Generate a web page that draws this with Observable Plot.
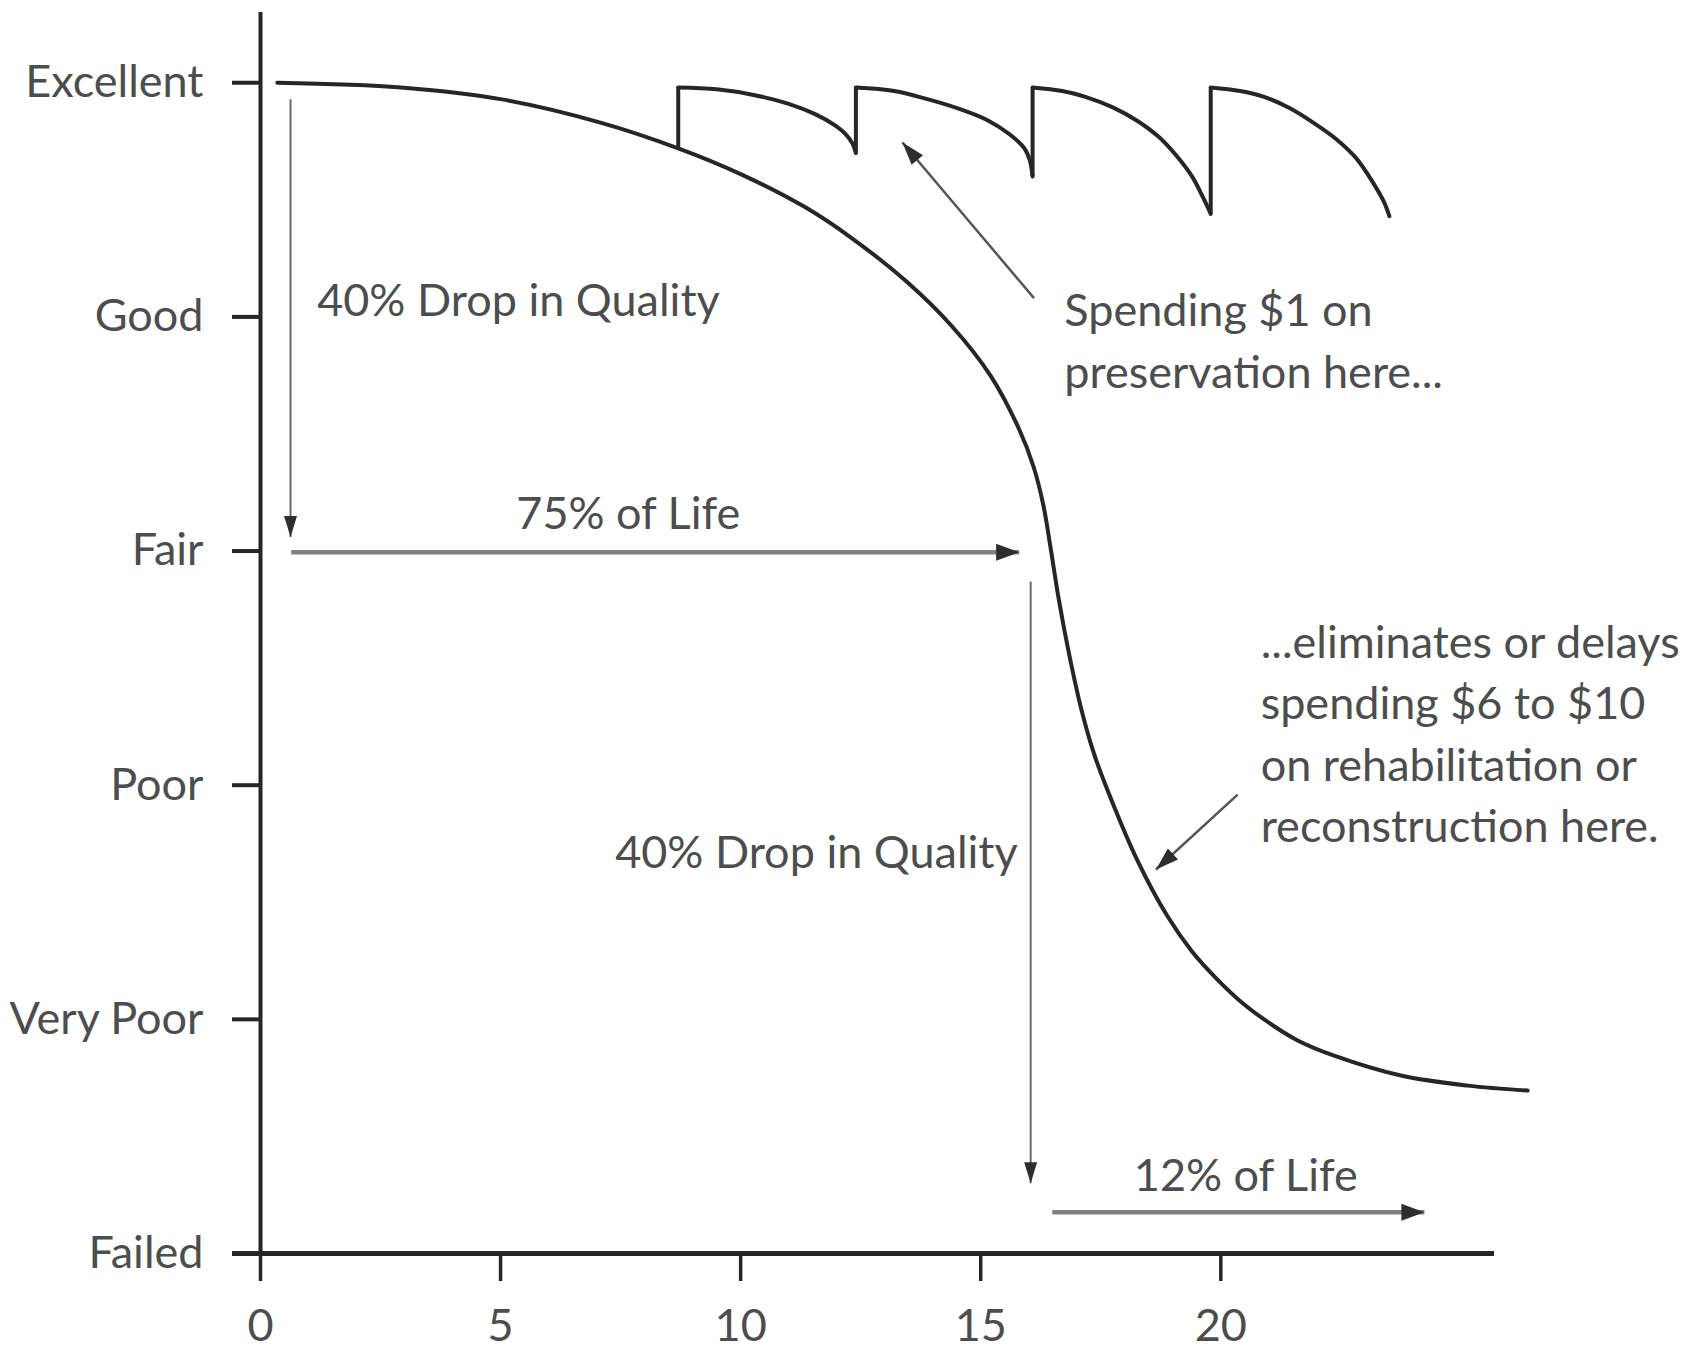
<!DOCTYPE html>
<html>
<head>
<meta charset="utf-8">
<script src="https://cdn.jsdelivr.net/npm/d3@7"></script>
<script src="https://cdn.jsdelivr.net/npm/@observablehq/plot@0.6"></script>
<style>
  html, body { margin: 0; padding: 0; background: #fff; }
  #chart svg { display: block; }
</style>
</head>
<body>
<div id="chart"></div>
<script>
// ---------- data ----------
const levelNames = ["Failed", "Very Poor", "Poor", "Fair", "Good", "Excellent"];
const levelValues = [0, 1, 2, 3, 4, 5];
const xTickValues = [0, 5, 10, 15, 20];

// untreated pavement condition curve (years, condition)
const mainX = [0.35, 2.92, 5.00, 7.08, 8.70, 10.00, 11.33, 12.29, 13.46, 14.40, 15.20, 15.80, 16.10, 16.30, 16.45, 16.62, 16.85, 17.10, 17.35, 17.60, 18.26, 18.89, 19.40, 19.93, 20.45, 20.97, 21.60, 22.36, 23.75, 25.14, 26.39];
const mainY = [5.00, 4.98, 4.93, 4.83, 4.72, 4.61, 4.47, 4.34, 4.15, 3.96, 3.75, 3.52, 3.36, 3.20, 3.02, 2.80, 2.55, 2.32, 2.14, 2.00, 1.68, 1.44, 1.29, 1.17, 1.07, 0.99, 0.91, 0.845, 0.76, 0.717, 0.696];

// preserved curve: arcs between treatments
const arcId = [1,1,1,1,1,1,1,1,1, 2,2,2,2,2,2,2,2,2, 3,3,3,3,3,3,3,3,3,3, 4,4,4,4,4,4,4,4,4,4];
const arcX = [8.70, 9.50, 10.27, 11.00, 11.55, 11.95, 12.19, 12.33, 12.40,
              12.40, 13.20, 13.89, 14.60, 15.16, 15.60, 15.91, 16.02, 16.08,
              16.08, 16.70, 17.18, 17.75, 18.24, 18.70, 19.09, 19.40, 19.63, 19.79,
              19.79, 20.40, 20.90, 21.45, 21.96, 22.40, 22.81, 23.15, 23.40, 23.51];
const arcY = [4.98, 4.972, 4.948, 4.91, 4.866, 4.82, 4.78, 4.74, 4.70,
              4.98, 4.965, 4.93, 4.885, 4.838, 4.78, 4.72, 4.67, 4.60,
              4.98, 4.965, 4.94, 4.895, 4.84, 4.77, 4.685, 4.60, 4.51, 4.44,
              4.98, 4.965, 4.94, 4.89, 4.825, 4.76, 4.68, 4.58, 4.49, 4.43];
// treatment jumps
const jumpX = [8.70, 12.40, 16.08, 19.79];
const jumpFrom = [4.72, 4.70, 4.60, 4.44];
const jumpTo = [4.98, 4.98, 4.98, 4.98];

// arrows: start -> tip
const arrowKind = ["thin", "wide", "thin", "wide", "pointer", "pointer"];
const arrowX1 = [0.625, 0.64, 16.04, 16.49, 16.11, 20.35];
const arrowY1 = [4.93, 2.995, 2.87, 0.176, 4.08, 1.96];
const arrowX2 = [0.625, 15.80, 16.04, 24.24, 13.37, 18.65];
const arrowY2 = [3.06, 2.995, 0.30, 0.176, 4.745, 1.64];

// annotation labels
const labelText = ["40% Drop in Quality", "75% of Life", "40% Drop in Quality", "12% of Life",
  "Spending $1 on\npreservation here...",
  "...eliminates or delays\nspending $6 to $10\non rehabilitation or\nreconstruction here."];
const labelX = [1.18, 7.66, 15.77, 20.52, 16.74, 20.83];
const labelY = [4.19, 3.28, 1.835, 0.453, 4.147, 2.731];
const labelAnchor = ["start", "middle", "end", "middle", "start", "start"];

// ---------- layout ----------
const W = 1691, H = 1355;
const mL = 260, mR = 197, mT = 12, mB = 102;
const xDom = [0, 25.7], yDom = [0, 5.3];
const kx = (W - mL - mR) / (xDom[1] - xDom[0]);
const ky = (H - mT - mB) / (yDom[1] - yDom[0]);
const yTickSize = 28;
const FONT = "Lato, 'Open Sans', sans-serif";
const FS = 45;
const TEXT = "#4d4d4d";
const INK = "#262626";

const mainData = mainX.map((x, i) => ({x, y: mainY[i]}));
const arcData = arcX.map((x, i) => ({x, y: arcY[i], id: arcId[i]}));
const jumpData = jumpX.map((x, i) => ({x, y1: jumpFrom[i], y2: jumpTo[i]}));
const arrows = arrowKind.map((k, i) => ({k, x1: arrowX1[i], y1: arrowY1[i], x2: arrowX2[i], y2: arrowY2[i]}));
const labels = labelText.map((t, i) => ({t, x: labelX[i], y: labelY[i], a: labelAnchor[i]}));

const headSize = {thin: [21, 6.5], wide: [23, 8.5], pointer: [23, 7.5]};
function head(a) {
  const ang = Math.atan2(-(a.y2 - a.y1) * ky, (a.x2 - a.x1) * kx);
  const [len, hw] = headSize[a.k];
  const c = Math.cos(ang), s = Math.sin(ang);
  return {draw(ctx) {
    ctx.moveTo(0, 0);
    ctx.lineTo(-len * c - hw * s, -len * s + hw * c);
    ctx.lineTo(-len * c + hw * s, -len * s - hw * c);
    ctx.closePath();
  }};
}
const shaftWidth = {thin: 2, wide: 4.5, pointer: 2.5};
const shaftColor = {thin: "#6a6a6a", wide: "#808080", pointer: "#555"};

const marks = [
  // axes
  Plot.ruleX([0], {y1: 0, y2: yDom[1], stroke: INK, strokeWidth: 4}),
  Plot.ruleY([0], {x1: -yTickSize / kx, x2: xDom[1], stroke: INK, strokeWidth: 5}),
  Plot.axisY(levelValues, {
    tickSize: yTickSize, tickPadding: 29, tickFormat: d => levelNames[d],
    stroke: INK, strokeWidth: 4, fill: TEXT, fontSize: FS, fontFamily: FONT, label: null
  }),
  Plot.axisX(xTickValues, {
    tickSize: 28, tickPadding: 28, tickFormat: d => String(d),
    stroke: INK, strokeWidth: 3.5, fill: TEXT, fontSize: FS, fontFamily: FONT, label: null
  }),
  // curves
  Plot.line(mainData, {x: "x", y: "y", curve: "catmull-rom", stroke: INK, strokeWidth: 4}),
  Plot.line(arcData, {x: "x", y: "y", z: "id", curve: "catmull-rom", stroke: INK, strokeWidth: 4}),
  Plot.ruleX(jumpData, {x: "x", y1: "y1", y2: "y2", stroke: INK, strokeWidth: 4})
];
// arrow shafts + heads
for (const a of arrows) {
  marks.push(Plot.link([a], {x1: "x1", y1: "y1", x2: "x2", y2: "y2", stroke: shaftColor[a.k], strokeWidth: shaftWidth[a.k]}));
  marks.push(Plot.dot([a], {x: "x2", y: "y2", symbol: head(a), r: 5, fill: "#2e2e2e", stroke: "none"}));
}
// labels
for (const l of labels) {
  marks.push(Plot.text([l], {x: "x", y: "y", text: "t", textAnchor: l.a, lineAnchor: "top",
    lineHeight: 1.367, fontSize: FS, fontFamily: FONT, fill: TEXT}));
}

const chart = Plot.plot({
  width: W, height: H,
  marginLeft: mL, marginRight: mR, marginTop: mT, marginBottom: mB,
  x: {domain: xDom, axis: null},
  y: {domain: yDom, axis: null},
  style: {fontFamily: FONT, background: "#fff", overflow: "visible"},
  marks
});
document.getElementById("chart").appendChild(chart);
</script>
</body>
</html>
